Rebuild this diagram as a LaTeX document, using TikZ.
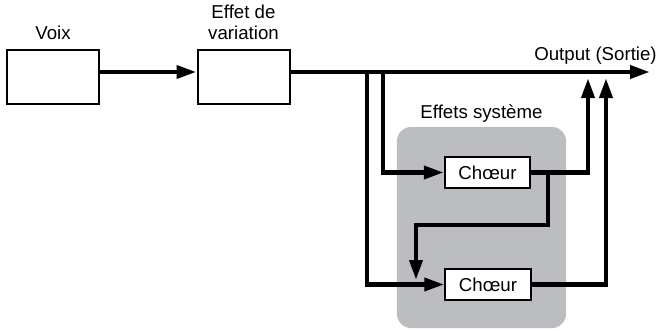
\documentclass[tikz,border=0pt]{standalone}
\usepackage{fontspec}
\setmainfont{Liberation Sans}
\usepackage{xcolor}
\usetikzlibrary{arrows.meta, positioning, calc}

\definecolor{panelgray}{RGB}{188,189,192}

\begin{document}
\begin{tikzpicture}[
      x=0.75pt, y=-0.75pt,
      font=\fontsize{14}{15.5}\selectfont, >={Triangle[length=15pt, width=9.5pt]},
      box/.style={draw, line width=1.5pt, fill=white, inner sep=0pt},
      fxbox/.style={box, minimum width=69pt, minimum height=40.5pt},
      chbox/.style={box, minimum width=64pt, minimum height=23pt},
      panel/.style={fill=panelgray, rounded corners=11pt, minimum width=127pt, minimum height=151pt},
      lbl/.style={align=center, inner sep=0pt},
      sig/.style={line width=3.4pt},
    ]
      \useasboundingbox (0,0) rectangle (658,330);

      \node[panel] (sys) at (481.5,227.5) {};
      \node[lbl, above=3pt of sys] (syslbl) {Effets système};

      \node[fxbox] (voix) at (53,77) {};
      \node[lbl, above=7pt of voix] (voixlbl) {Voix};
      \node[fxbox] (var) at (243.5,77) {};
      \node[lbl, above=7pt of var] (varlbl) {Effet de\\variation};

      \node[chbox] (ch1) at (487.5,172.5) {Chœur};
      \node[chbox] (ch2) at (488,284.5) {Chœur};

      \coordinate (outp) at (650,72);
      \node[lbl, anchor=base east] (outlbl) at (657,60) {Output (Sortie)};

      \coordinate (tapA) at (367,72);
      \coordinate (tapB) at (383,72);
      \coordinate (retA) at (588,78);
      \coordinate (retB) at (606,78);
      \coordinate (fbtop) at (548,172.5);
      \coordinate (fbturn) at (416,225);
      \coordinate (fbend) at (416,280);

      \draw[sig, ->] (voix.east |- outp) -- (var.west |- outp);
      \draw[sig, ->] (var.east |- outp) -- (outp);
      \draw[sig, ->] (tapA) |- (ch2.west);
      \draw[sig, ->] (tapB) |- (ch1.west);
      \draw[sig, ->] (ch1.east) -| (retA);
      \draw[sig, ->] (ch2.east) -| (retB);
      \draw[sig, ->] (fbtop) |- (fbturn) -- (fbend);
    \end{tikzpicture}
\end{document}
